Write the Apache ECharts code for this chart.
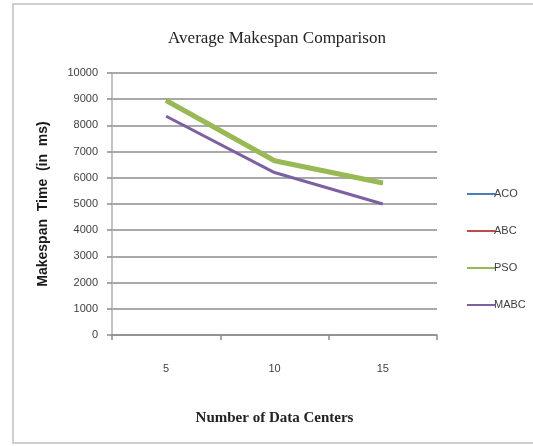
<!DOCTYPE html>
<html>
<head>
<meta charset="utf-8">
<script src="https://cdn.jsdelivr.net/npm/echarts@6/dist/echarts.min.js"></script>
<style>
  html, body { margin: 0; padding: 0; background: #ffffff; }
  #chart { width: 533px; height: 446px; }
</style>
</head>
<body>
<div id="chart"></div>
<script>
// Number of data centers on the x axis
const categories = ['5', '10', '15'];

// Average makespan (ms) per algorithm
const aco  = [8950, 6650, 5800];
const abc  = [8950, 6650, 5800];
const pso  = [8950, 6650, 5800];
const mabc = [8350, 6200, 5000];

const seriesNames = ['ACO', 'ABC', 'PSO', 'MABC'];
const seriesColors = ['#4a7ebb', '#be4b48', '#98b954', '#7d60a0'];
const seriesWidths = [3, 3, 5, 3];
const seriesData = [aco, abc, pso, mabc];

const chart = echarts.init(document.getElementById('chart'), null, { renderer: 'canvas' });

const option = {
  backgroundColor: '#ffffff',
  animation: false,
  title: {
    text: 'Average Makespan Comparison',
    left: 272,
    top: 25,
    textAlign: 'center',
    textStyle: {
      fontFamily: 'Liberation Serif',
      fontWeight: 'normal',
      fontSize: 17,
      color: '#222222'
    }
  },
  legend: {
    orient: 'vertical',
    left: 462,
    top: 182,
    itemWidth: 28,
    itemHeight: 2,
    itemGap: 23,
    icon: 'rect',
    data: seriesNames,
    textStyle: {
      fontFamily: 'Liberation Sans',
      fontSize: 11,
      lineHeight: 14,
      color: '#404040',
      padding: [0, 0, 0, -6]
    }
  },
  grid: {
    left: 112,
    right: 96,
    top: 73,
    bottom: 111
  },
  xAxis: {
    type: 'category',
    data: categories,
    boundaryGap: true,
    name: 'Number of Data Centers',
    nameLocation: 'middle',
    nameGap: 76,
    nameTextStyle: {
      fontFamily: 'Liberation Serif',
      fontWeight: 'bold',
      fontSize: 15,
      color: '#222222'
    },
    axisLine: { lineStyle: { color: '#8c8c8c', width: 1.5 } },
    axisTick: { show: true, length: 5, lineStyle: { color: '#8c8c8c', width: 1.5 } },
    axisLabel: {
      margin: 28,
      fontFamily: 'Liberation Sans',
      fontSize: 11,
      color: '#404040'
    },
    splitLine: { show: false }
  },
  yAxis: {
    type: 'value',
    min: 0,
    max: 10000,
    interval: 1000,
    name: 'Makespan  Time  (in  ms)',
    nameLocation: 'middle',
    nameRotate: 90,
    nameGap: 62,
    nameTextStyle: {
      fontFamily: 'Liberation Sans',
      fontWeight: 'bold',
      fontSize: 14,
      color: '#1a1a1a'
    },
    axisLine: { show: true, lineStyle: { color: '#b0b0b0', width: 1.5 } },
    axisTick: { show: true, length: 5, lineStyle: { color: '#8c8c8c', width: 1.5 } },
    axisLabel: {
      margin: 14,
      fontFamily: 'Liberation Sans',
      fontSize: 11,
      color: '#404040',
      formatter: (v) => String(v)
    },
    splitLine: { show: true, lineStyle: { color: '#8c8c8c', width: 1.5 } }
  },
  graphic: [{
    type: 'rect',
    shape: { x: 13, y: 4, width: 530, height: 439 },
    style: { fill: 'none', stroke: '#cfcfcf', lineWidth: 2 },
    silent: true
  }],
  series: seriesNames.map((name, i) => ({
    name: name,
    type: 'line',
    data: seriesData[i],
    symbol: 'none',
    color: seriesColors[i],
    lineStyle: { color: seriesColors[i], width: seriesWidths[i] },
    z: 2 + i
  }))
};

chart.setOption(option);
</script>
</body>
</html>
